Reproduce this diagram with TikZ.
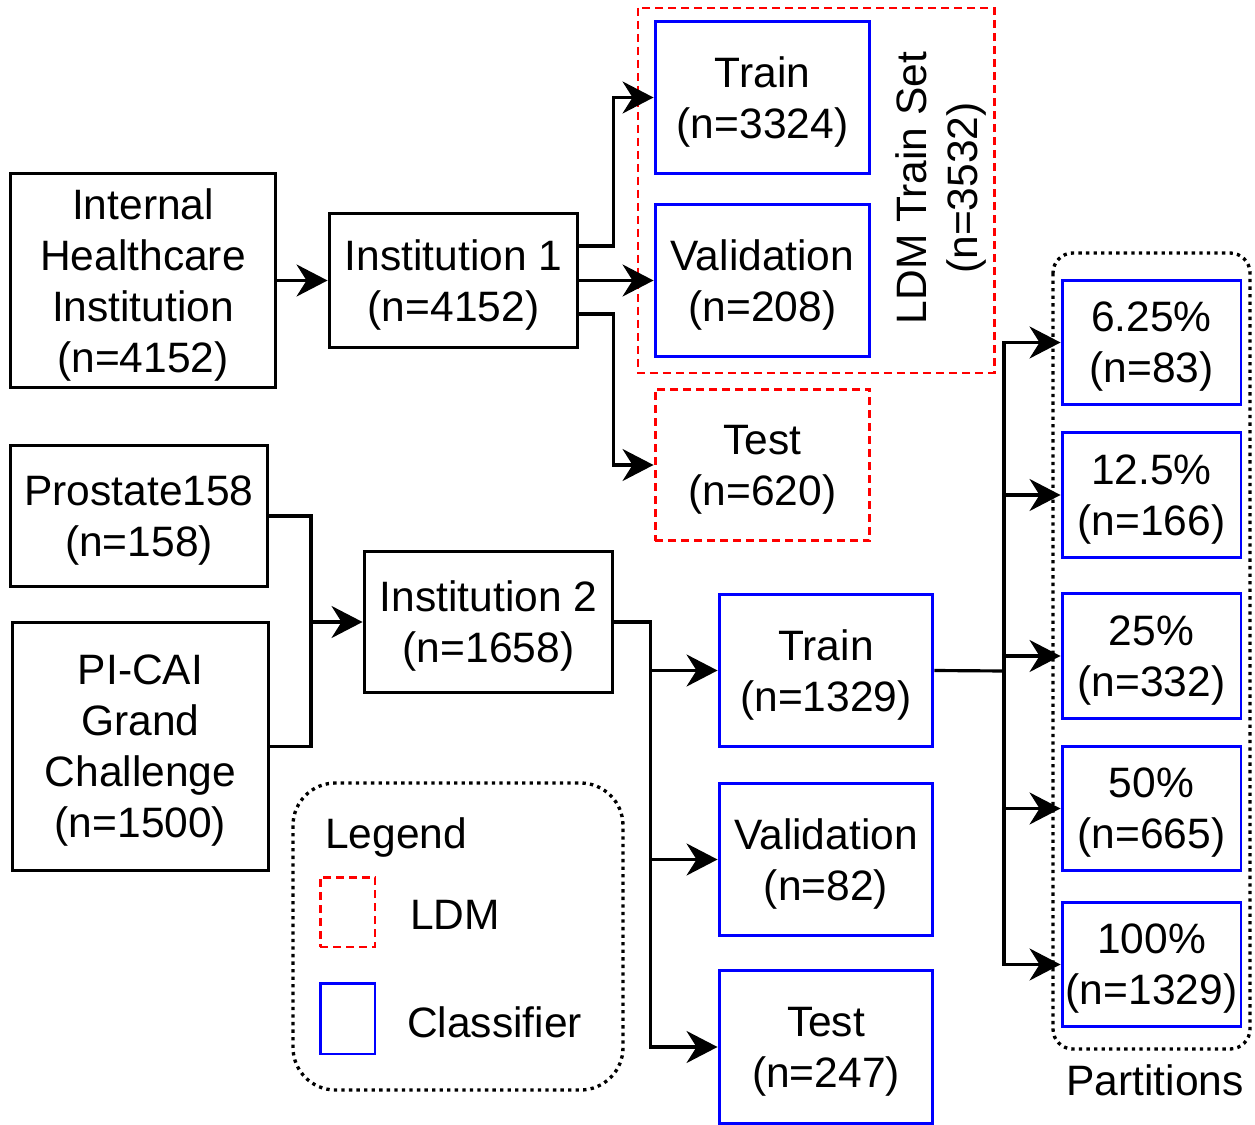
\documentclass[tikz,border=0pt]{standalone}
\usepackage{fontspec}
\setmainfont{Liberation Sans}
\usepackage{tikz}
\usetikzlibrary{arrows.meta}

\definecolor{ldmred}{RGB}{255,0,0}
\definecolor{clsblue}{RGB}{0,0,255}

\tikzset{
    every node/.style={font=\fontsize{24.2}{29}\selectfont, align=center, text depth=0pt},
    blk/.style={draw=black, line width=1.7pt, inner sep=0pt},
    cls/.style={draw=clsblue, line width=1.7pt, inner sep=0pt},
    ldm/.style={draw=ldmred, line width=1.7pt, dash pattern=on 0.16cm off 0.1cm},
    grp/.style={draw=black, line width=1.9pt, dash pattern=on 1.9pt off 2.4pt},
    link/.style={line width=1.8pt},
    arr/.style={link, -{Stealth[length=0.62cm, width=0.64cm, inset=0.2cm]}}
}

\begin{document}
\begin{tikzpicture}[x=0.02cm, y=-0.02cm]
    \useasboundingbox (0,0) rectangle (1255,1125);

    % Draw groups
    \draw[ldm] (638,8) rectangle (994,373);
    \draw[grp, rounded corners=0.4cm] (1053,253) rectangle (1250,1049);
    \draw[grp, rounded corners=0.85cm] (293,783) rectangle (623,1090);

    % Data sources
    \node[blk, minimum width=5.32cm, minimum height=4.28cm] (internal) at (143,280.5) {Internal\\Healthcare\\Institution\\(n=4152)};
    \node[blk, minimum width=5.16cm, minimum height=2.84cm] (prostate) at (139,516) {Prostate158\\(n=158)};
    \node[blk, minimum width=5.14cm, minimum height=4.98cm] (picai) at (140.5,746.5) {PI-CAI\\Grand\\Challenge\\(n=1500)};

    % Institutions
    \node[blk, minimum width=4.98cm, minimum height=2.7cm] (inst1) at (453.5,280.5) {Institution 1\\(n=4152)};
    \node[blk, minimum width=4.98cm, minimum height=2.84cm] (inst2) at (488.5,622) {Institution 2\\(n=1658)};

    % LDM splits
    \node[cls, minimum width=4.3cm, minimum height=3.06cm] (trainA) at (762.5,97.5) {Train\\(n=3324)};
    \node[cls, minimum width=4.3cm, minimum height=3.06cm] (valA) at (762.5,280.5) {Validation\\(n=208)};
    \node[ldm, minimum width=4.3cm, minimum height=3.04cm, inner sep=0pt] (testA) at (762.5,465) {Test\\(n=620)};
    \node[rotate=90] (ldmset) at (937,188) {LDM Train Set\\(n=3532)};

    % Classifier splits
    \node[cls, minimum width=4.28cm, minimum height=3.06cm] (trainB) at (826,670.5) {Train\\(n=1329)};
    \node[cls, minimum width=4.28cm, minimum height=3.06cm] (valB) at (826,859.5) {Validation\\(n=82)};
    \node[cls, minimum width=4.28cm, minimum height=3.06cm] (testB) at (826,1047) {Test\\(n=247)};

    % Partitions
    \node[cls, minimum width=3.58cm, minimum height=2.5cm] (p1) at (1151.5,342.5) {6.25\%\\(n=83)};
    \node[cls, minimum width=3.58cm, minimum height=2.5cm] (p2) at (1151.5,495) {12.5\%\\(n=166)};
    \node[cls, minimum width=3.58cm, minimum height=2.5cm] (p3) at (1151.5,656) {25\%\\(n=332)};
    \node[cls, minimum width=3.58cm, minimum height=2.5cm] (p4) at (1151.5,808.5) {50\%\\(n=665)};
    \node[cls, minimum width=3.58cm, minimum height=2.5cm] (p5) at (1151.5,964.5) {100\%\\(n=1329)};
    \node (partlabel) at (1155,1080) {Partitions};

    % Legend
    \node[anchor=west] (legtitle) at (319,833) {Legend};
    \node[ldm, minimum width=1.1cm, minimum height=1.4cm] (legldm) at (347.5,912) {};
    \node[anchor=west] (legldmtxt) at (404,915) {LDM};
    \node[cls, minimum width=1.1cm, minimum height=1.42cm] (legcls) at (347.5,1018.5) {};
    \node[anchor=west] (legclstxt) at (401,1022) {Classifier};

    % Draw connectors
    \coordinate (m2) at (311,622);
    \coordinate (m4) at (1004,671);
    \draw[arr] (internal.east) -- (inst1.west);
    \draw[arr] ([yshift=0.69cm]inst1.east) -- ++(34,0) |- (trainA.west);
    \draw[arr] (inst1.east) -- (valA.west);
    \draw[arr] ([yshift=-0.67cm]inst1.east) -- ++(34,0) |- (testA.west);
    \draw[link] (prostate.east) -| (m2) |- (picai.east);
    \draw[arr] (m2) -- (inst2.west);
    \foreach \s in {trainB,valB,testB}
        \draw[arr] (inst2.east) -- ++(36,0) |- (\s.west);
    \draw[link] (trainB.east) -- (m4);
    \foreach \p in {p1,p2,p3,p4,p5}
        \draw[arr] (m4) |- (\p.west);
\end{tikzpicture}
\end{document}
